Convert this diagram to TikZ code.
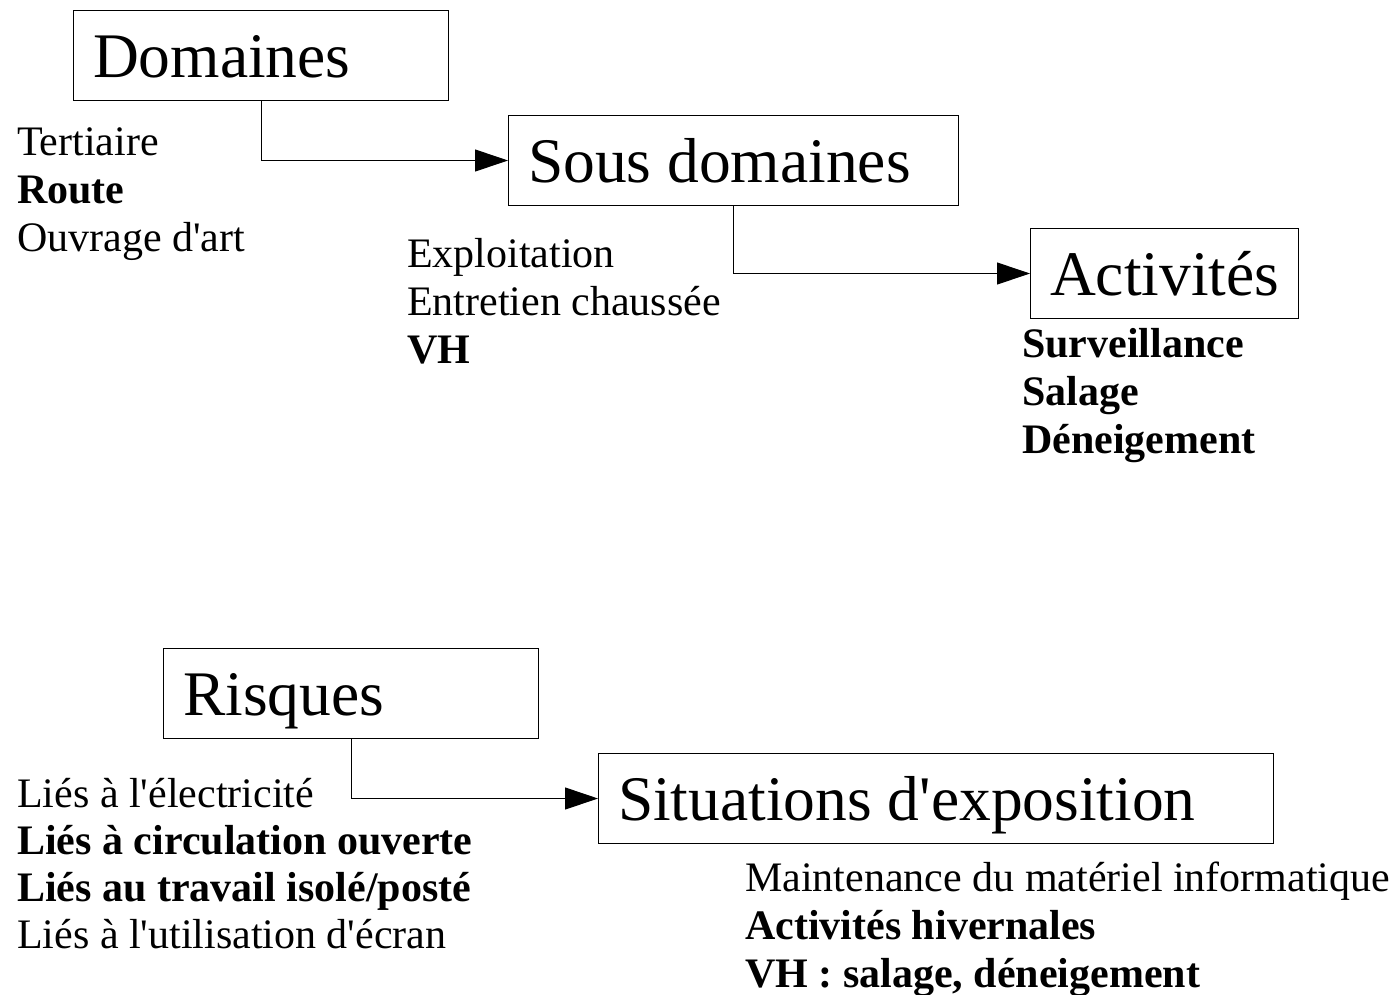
\documentclass[tikz,border=0pt]{standalone}
\usepackage{fontspec}
\setmainfont{Liberation Serif}
\usetikzlibrary{arrows.meta}

\newcommand{\apos}{\textquotesingle}

\tikzset{
  box/.style={draw, line width=1pt, anchor=north west, minimum height=90pt,
    inner xsep=19.5pt, inner ysep=0pt, text width=#1, align=left,
    execute at begin node={\spaceskip=0pt\xspaceskip=0pt\relax},
    text height=43pt, text depth=0pt, font=\fontsize{63.5}{70}\selectfont},
  item/.style={anchor=base west, inner sep=0pt, font=\fontsize{42}{48}\selectfont},
  link/.style={line width=1pt, -{Triangle[length=33pt,width=22pt]}}
}

\begin{document}
\begin{tikzpicture}[x=1pt, y=-1pt]
            \useasboundingbox (0,0) rectangle (1398,994);

            % Boxes
            \node[box=336pt] (dom) at (73,10) {Domaines};
            \node[box=411pt] (sous) at (508,115) {Sous domaines};
            \node[box=229pt] (act) at (1030,228) {Activités};
            \node[box=336pt] (ris) at (163,648) {Risques};
            \node[box=636pt] (sit) at (598,753) {Situations d\apos exposition};

            % Links
            \draw[link] (dom.south) |- (sous.west);
            \draw[link] (sous.south) |- (act.west);
            \draw[link] (ris.south) |- (sit.west);

            % Lists
            \foreach \txt [count=\i] in {Tertiaire, \textbf{Route}, Ouvrage d\apos art}
              \node[item] (dom-\i) at (17,107+48*\i) {\txt};
            \foreach \txt [count=\i] in {Exploitation, Entretien chaussée, \textbf{VH}}
              \node[item] (sous-\i) at (407,219+48*\i) {\txt};
            \foreach \txt [count=\i] in {Surveillance, Salage, Déneigement}
              \node[item, font=\fontsize{42}{48}\selectfont\bfseries] (act-\i) at (1022,309+48*\i) {\txt};
            \foreach \txt [count=\i] in {Liés à l\apos électricité, \textbf{Liés à circulation ouverte},
                \textbf{Liés au travail isolé/posté}, Liés à l\apos utilisation d\apos écran}
              \node[item] (ris-\i) at (17,760+47*\i) {\txt};
            \foreach \txt [count=\i] in {Maintenance du matériel informatique,
                \textbf{Activités hivernales}, {\textbf{VH : salage, déneigement}}}
              \node[item] (sit-\i) at (745,843+48*\i) {\txt};
        \end{tikzpicture}
\end{document}
